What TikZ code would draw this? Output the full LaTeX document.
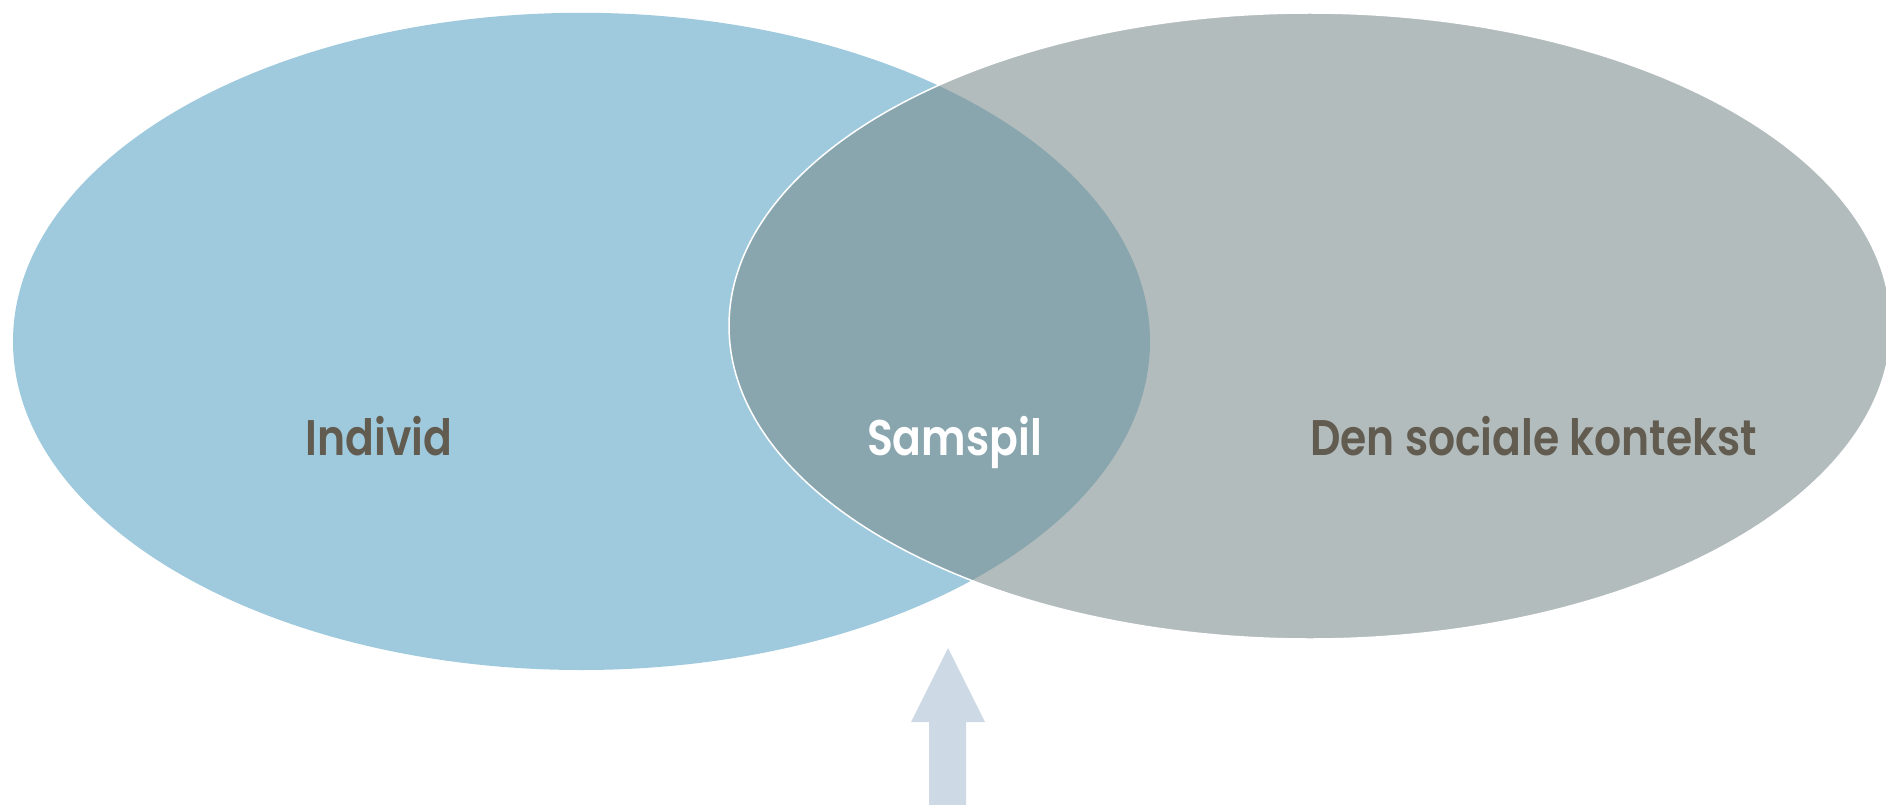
\documentclass[tikz,border=0pt]{standalone}
\usepackage{fontspec}
\newfontfamily\labelfont{Poppins SemiBold}[FakeStretch=0.85]
\definecolor{individblue}{RGB}{159,202,221}
\definecolor{kontekstgray}{RGB}{179,188,189}
\definecolor{samspilteal}{RGB}{137,166,175}
\definecolor{labelbrown}{RGB}{97,91,80}
\definecolor{arrowblue}{RGB}{205,218,230}

\begin{document}
\begin{tikzpicture}[
    x=1pt, y=-1pt,
    lbl/.style={font=\labelfont\fontsize{50}{60}\selectfont, text=labelbrown, anchor=base, inner sep=0pt},
    ring/.style={draw=white, line width=1.5pt}
]
\useasboundingbox (0,0) rectangle (1886,805);

\fill[individblue] (581.5,341.4) ellipse [x radius=568.5, y radius=328.6];
\fill[kontekstgray] (1310,326) ellipse [x radius=581, y radius=313];
\begin{scope}
  \clip (1310,326) ellipse [x radius=581, y radius=313];
  \fill[samspilteal] (581.5,341.4) ellipse [x radius=568.5, y radius=328.6];
\end{scope}
\draw[ring] (1310,326) ellipse [x radius=581, y radius=313];

\node[lbl] (individ) at (379,455) {Individ};
\node[lbl, text=white] (samspil) at (954.5,455) {Samspil};
\node[lbl] (kontekst) at (1533.5,455) {Den sociale kontekst};

\fill[arrowblue] (948,648) -- (985,722) -- (966,722) -- (966,805)
  -- (929,805) -- (929,722) -- (911,722) -- cycle;

\end{tikzpicture}
\end{document}
